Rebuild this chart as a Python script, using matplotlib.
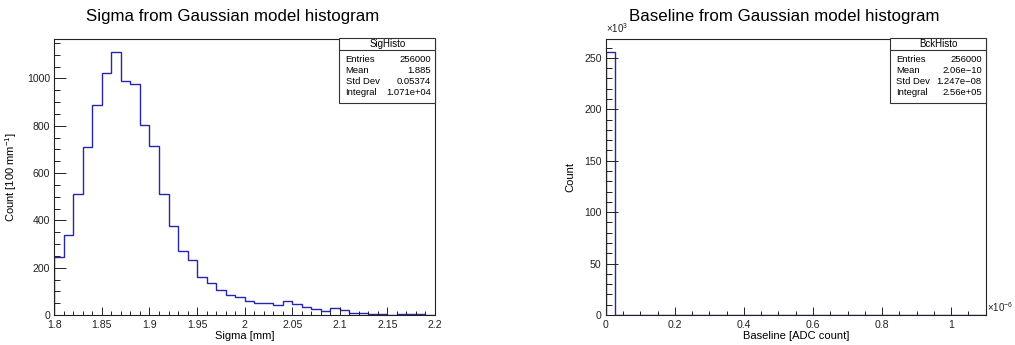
import matplotlib
matplotlib.use("Agg")
import matplotlib.pyplot as plt
from matplotlib.patches import Rectangle
from matplotlib.lines import Line2D
from matplotlib.ticker import MultipleLocator, FuncFormatter
import numpy as np

plt.rcParams["font.family"] = ["Liberation Sans", "DejaVu Sans"]
plt.rcParams["mathtext.fontset"] = "custom"
plt.rcParams["mathtext.rm"] = "Liberation Sans"
plt.rcParams["mathtext.it"] = "Liberation Sans:italic"

# Sigma histogram: 40 bins of 0.01 mm between 1.8 and 2.2
sig_lo, sig_hi, sig_nbins = 1.8, 2.2, 40
sig_counts = [
    244, 338, 511, 708, 889, 1021, 1113, 987, 976, 801,
    713, 513, 377, 269, 232, 162, 134, 106, 83, 75,
    61, 52, 49, 41, 59, 46, 32, 27, 18, 31,
    21, 10, 7, 4, 3, 1, 3, 3, 4, 1,
]
sig_stats = [("Entries", "256000"), ("Mean", "1.885"),
             ("Std Dev", "0.05374"), ("Integral", "1.071e+04")]

# Baseline histogram: 40 bins between 0 and 1.1e-6, everything in the first bin
bck_lo, bck_hi, bck_nbins = 0.0, 1.1e-6, 40
bck_counts = [256000] + [0] * 39
bck_stats = [("Entries", "256000"), ("Mean", "2.06e\u221210"),
             ("Std Dev", "1.247e\u221208"), ("Integral", "2.56e+05")]

LINE = "#2626aa"
W, H = 1015, 345
TICK_FS = 7.6
LABEL_FS = 8.0
STAT_FS = 6.8


def root_style(ax):
    for side in ("top", "right", "left", "bottom"):
        ax.spines[side].set_linewidth(0.8)
        ax.spines[side].set_color("#222222")
    ax.tick_params(which="both", direction="in", top=False, right=False,
                   labelsize=TICK_FS, colors="#222222", width=0.7)
    ax.tick_params(axis="y", which="major", length=8.5, pad=3)
    ax.tick_params(axis="y", which="minor", length=4.3)
    ax.tick_params(axis="x", which="major", length=6, pad=3.5)
    ax.tick_params(axis="x", which="minor", length=3)


def stats_box(ax, name, rows):
    ax.add_patch(Rectangle((0.749, 0.767), 0.251, 0.233, transform=ax.transAxes,
                           facecolor="white", edgecolor="#333333", lw=0.8,
                           zorder=5, clip_on=False))
    ax.add_line(Line2D([0.749, 1.0], [0.958, 0.958], transform=ax.transAxes,
                       color="#333333", lw=0.8, zorder=6))
    ax.text(0.8745, 0.979, name, transform=ax.transAxes, ha="center",
            va="center", fontsize=STAT_FS + 0.2, zorder=7)
    for i, (key, val) in enumerate(rows):
        y = 0.925 - i * 0.0405
        ax.text(0.765, y, key, transform=ax.transAxes, ha="left",
                va="center", fontsize=STAT_FS, zorder=7)
        ax.text(0.99, y, val, transform=ax.transAxes, ha="right",
                va="center", fontsize=STAT_FS, zorder=7)


fig = plt.figure(figsize=(W / 100, H / 100), dpi=100)

# left pad: sigma
ax1 = fig.add_axes([54.3 / W, 1 - 315 / H, 380.7 / W, 276.5 / H])
sig_edges = np.linspace(sig_lo, sig_hi, sig_nbins + 1)
ax1.stairs(sig_counts, sig_edges, color=LINE, lw=1.0)
ax1.set_xlim(sig_lo, sig_hi)
ax1.set_ylim(0, max(sig_counts) * 1.05)
ax1.xaxis.set_major_locator(MultipleLocator(0.05))
ax1.xaxis.set_minor_locator(MultipleLocator(0.01))
ax1.yaxis.set_major_locator(MultipleLocator(200))
ax1.yaxis.set_minor_locator(MultipleLocator(50))
ax1.xaxis.set_major_formatter(FuncFormatter(lambda v, p: f"{v:g}"))
root_style(ax1)
ax1.set_xlabel("Sigma [mm]", fontsize=LABEL_FS, labelpad=1.0)
ax1.set_ylabel(r"Count [100 mm$^{-1}$]", fontsize=LABEL_FS, labelpad=6)
stats_box(ax1, "SigHisto", sig_stats)
fig.text(233 / W, 1 - 17 / H, "Sigma from Gaussian model histogram",
         ha="center", va="center", fontsize=12.2)

# right pad: baseline
ax2 = fig.add_axes([605.7 / W, 1 - 315 / H, 380 / W, 276.5 / H])
bck_edges = np.linspace(bck_lo, bck_hi, bck_nbins + 1)
ax2.stairs(bck_counts, bck_edges, color=LINE, lw=1.0)
ax2.set_xlim(bck_lo, bck_hi)
ax2.set_ylim(0, max(bck_counts) * 1.05)
ax2.xaxis.set_major_locator(MultipleLocator(0.2e-6))
ax2.xaxis.set_minor_locator(MultipleLocator(0.05e-6))
ax2.yaxis.set_major_locator(MultipleLocator(50e3))
ax2.yaxis.set_minor_locator(MultipleLocator(10e3))
ax2.xaxis.set_major_formatter(FuncFormatter(lambda v, p: f"{v * 1e6:g}"))
ax2.yaxis.set_major_formatter(FuncFormatter(lambda v, p: f"{v / 1e3:g}"))
root_style(ax2)
ax2.set_xlabel("Baseline [ADC count]", fontsize=LABEL_FS, labelpad=1.0)
ax2.set_ylabel("Count", fontsize=LABEL_FS, labelpad=6)
ax2.text(0.0, 1.012, r"$\times10^{3}$", transform=ax2.transAxes,
         ha="left", va="bottom", fontsize=7.0, color="#222222")
ax2.text(1.004, 0.005, r"$\times10^{-6}$", transform=ax2.transAxes,
         ha="left", va="bottom", fontsize=7.0, color="#222222")
stats_box(ax2, "BckHisto", bck_stats)
fig.text(784 / W, 1 - 17 / H, "Baseline from Gaussian model histogram",
         ha="center", va="center", fontsize=12.2)

fig.savefig("out.png", dpi=100)
